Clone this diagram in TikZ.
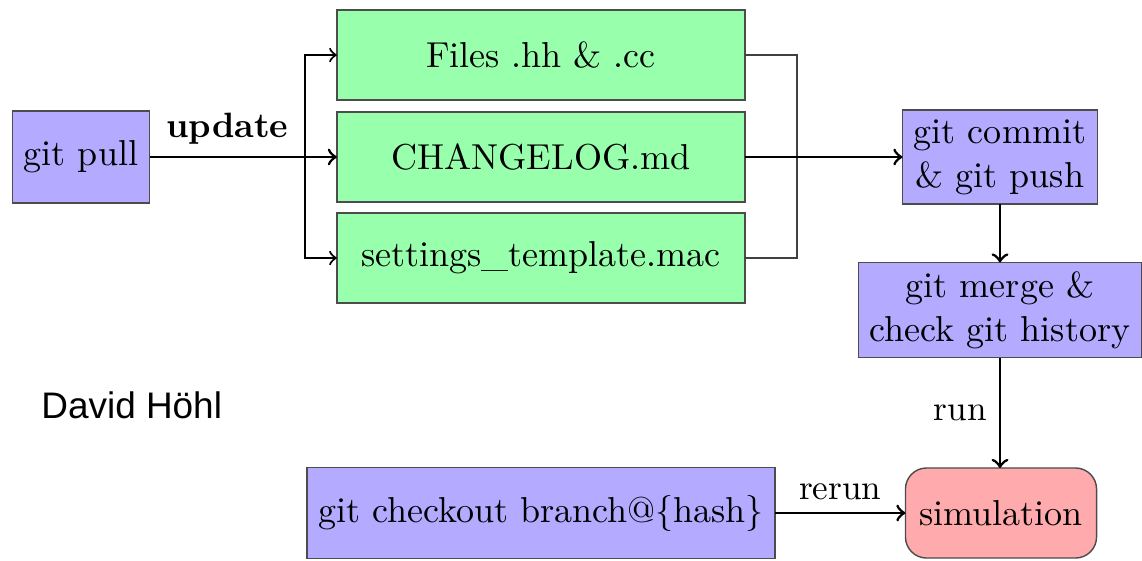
\documentclass[tikz,border=0pt]{standalone}
\usepackage{fontspec}
\newfontfamily\namefont{Liberation Sans}
\definecolor{gitblue}{RGB}{180,170,255}
\definecolor{filegreen}{RGB}{152,255,172}
\definecolor{runred}{RGB}{255,170,172}
\begin{document}
\begin{tikzpicture}[x=0.01cm, y=-0.01cm,
  box/.style={draw=black!70, outer sep=0, inner sep=2, align=center, font=\fontsize{10.25}{12.5}\selectfont},
  gitbox/.style={box, fill=gitblue},
  filebox/.style={box, fill=filegreen, minimum width=4.08cm, minimum height=0.9cm}]

\useasboundingbox (0,0) rectangle (1142,560);

\node [gitbox, minimum width=1.37cm, minimum height=0.92cm] (pull) at (81,157) {git pull};
\node [filebox] (files) at (541,55) {Files .hh \& .cc};
\node [filebox] (log) at (541,157) {CHANGELOG.md};
\node [filebox] (settings) at (541,258) {settings\_template.mac};
\node [gitbox, minimum width=1.95cm, minimum height=0.94cm] (commit) at (1000,157) {git commit\\ \& git push};
\node [gitbox, minimum width=2.83cm, minimum height=0.95cm] (merge) at (1000,310) {git merge \&\\ check git history};
\node [box, fill=runred, rounded corners=6, minimum width=1.91cm, minimum height=0.9cm] (sim) at (1001,513) {simulation};
\node [gitbox, minimum width=4.68cm, minimum height=0.91cm] (checkout) at (541,513) {git checkout branch@\{hash\}};
\node [font=\namefont\fontsize{10.5}{12}\selectfont, anchor=west] (author) at (29,405) {David Höhl};

\coordinate (split) at (305,157);
\coordinate (join) at (797,157);

\draw [thick,->] (pull) -- node[above] {\textbf{update}} (split) -- (log);
\draw [semithick,->] (split) |- (files.west);
\draw [semithick,->] (split) |- (settings.west);
\draw [black!75] (files.east) -| (join) |- (settings.east);
\draw [thick,->] (log) -- (commit);
\draw [thick,->] (commit) -- (merge);
\draw [thick,->] (merge) -- node[left] {run} (merge |- sim.north);
\draw [thick,->] (checkout) -- node[above] {rerun} (sim);
\end{tikzpicture}
\end{document}
